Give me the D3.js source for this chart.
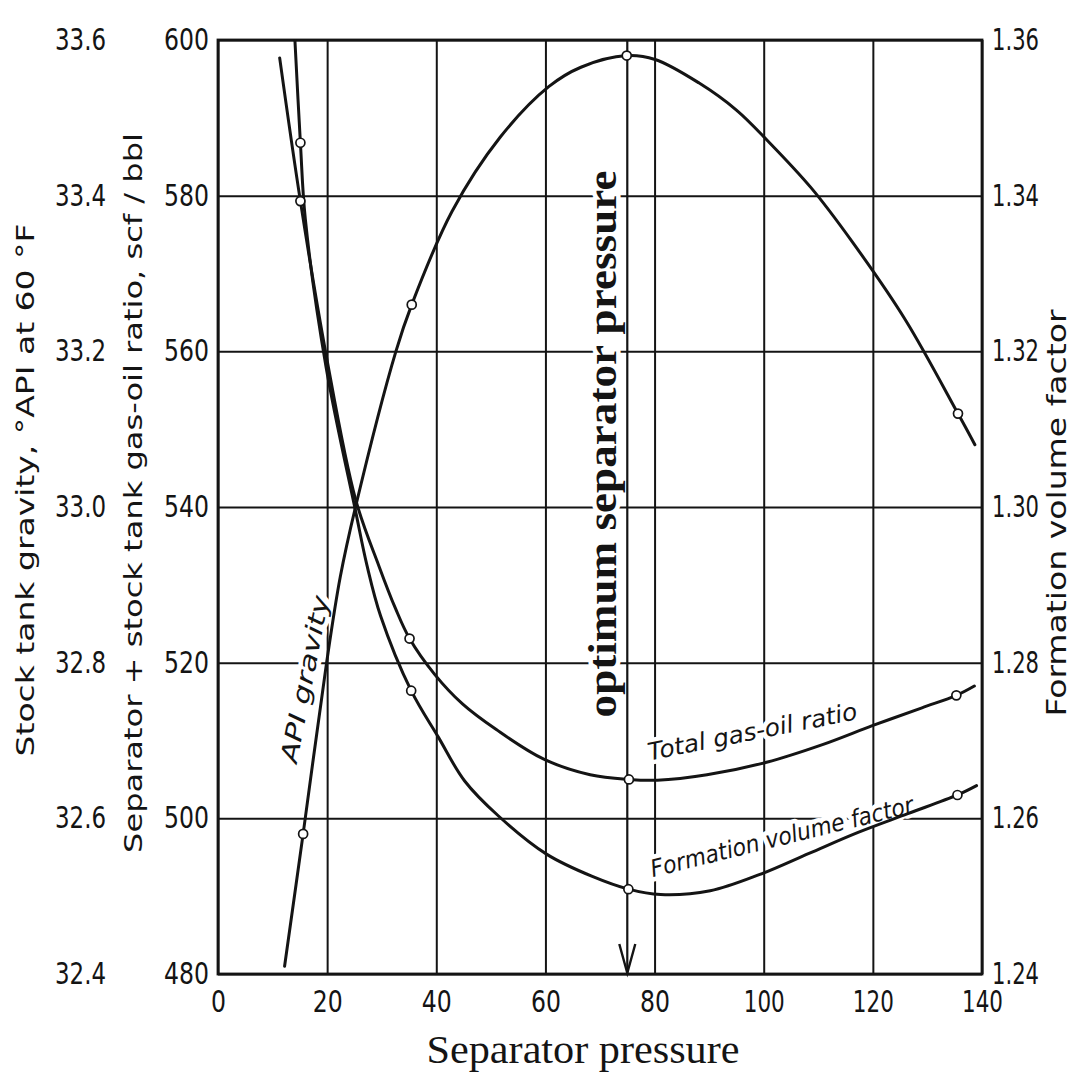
<!DOCTYPE html>
<html>
<head>
<meta charset="utf-8">
<script src="https://cdn.jsdelivr.net/npm/d3@7"></script>
<style>
  html, body { margin: 0; padding: 0; background: #fff; }
  svg { display: block; }
</style>
</head>
<body>
<svg id="chart" width="1077" height="1083"></svg>
<script>
// ---- axis ticks ----
const pressureTicks = [0, 20, 40, 60, 80, 100, 120, 140];
const gorTicks = [480, 500, 520, 540, 560, 580, 600];
const apiTicks = [32.4, 32.6, 32.8, 33.0, 33.2, 33.4, 33.6];
const fvfTicks = [1.24, 1.26, 1.28, 1.30, 1.32, 1.34, 1.36];

// ---- stock tank API gravity, °API ----
const apiPressure = [12.2, 15.6, 19.9, 22.4, 25.2, 32.6, 35.5, 42.9, 51.7, 60.6, 66.5, 74.9, 80.1, 88.1, 95.0, 100.8, 108.7, 116.3, 126.0, 135.6, 138.7];
const apiGravity  = [32.41, 32.58, 32.80, 32.91, 33.00, 33.20, 33.26, 33.38, 33.475, 33.54, 33.565, 33.58, 33.575, 33.545, 33.51, 33.47, 33.41, 33.34, 33.24, 33.12, 33.08];
const apiMeasuredPressure = [15.6, 35.5, 74.9, 135.6];
const apiMeasured = [32.58, 33.26, 33.58, 33.12];

// ---- separator + stock tank (total) gas-oil ratio, scf/bbl ----
const gorPressure = [11.3, 15.1, 19.8, 25.2, 29.5, 32.5, 35.1, 39.7, 44.8, 51.0, 59.7, 68.2, 75.3, 80.5, 89.6, 100.5, 110.9, 119.9, 129.0, 135.3, 138.6];
const gorTotal    = [597.7, 579.3, 559.6, 541.0, 532.4, 527.0, 523.1, 518.5, 514.7, 511.4, 507.6, 505.6, 505.0, 504.9, 505.6, 507.2, 509.5, 511.9, 514.2, 515.8, 517.0];
const gorMeasuredPressure = [15.1, 35.1, 75.3, 135.3];
const gorMeasured = [579.3, 523.1, 505.0, 515.8];

// ---- formation volume factor, bbl/STB ----
const fvfPressure = [14.1, 15.1, 16.0, 19.8, 25.2, 27.3, 29.8, 35.4, 40.4, 45.2, 51.4, 60.2, 68.7, 75.2, 81.1, 90.2, 99.3, 108.3, 117.3, 126.4, 135.5, 139.0];
const fvfValue    = [1.3599, 1.3468, 1.3370, 1.3180, 1.2995, 1.2925, 1.2860, 1.2764, 1.2704, 1.2648, 1.2603, 1.2554, 1.2525, 1.2509, 1.2502, 1.2507, 1.2528, 1.2555, 1.2582, 1.2606, 1.2630, 1.2642];
const fvfMeasuredPressure = [15.1, 35.4, 75.2, 135.5];
const fvfMeasured = [1.3468, 1.2764, 1.2509, 1.2630];

const optimumPressure = 75;

// ---- layout ----
const plot = { left: 218, right: 982, top: 40, bottom: 974 };
const svg = d3.select("#chart");
const ink = "#141414";
const sans = "'DejaVu Sans Condensed', 'DejaVu Sans', 'Liberation Sans', sans-serif";
const serif = "'Liberation Serif', 'DejaVu Serif', serif";

const x = d3.scaleLinear().domain([0, 140]).range([plot.left, plot.right]);
const yGor = d3.scaleLinear().domain([480, 600]).range([plot.bottom, plot.top]);
const yApi = d3.scaleLinear().domain([32.4, 33.6]).range([plot.bottom, plot.top]);
const yFvf = d3.scaleLinear().domain([1.24, 1.36]).range([plot.bottom, plot.top]);

// narrow numerals: fix each label's width from its characters
function numWidth(s) {
  let w = 0;
  for (const c of s) w += c === "." ? 6 : c === "1" ? 11 : 15;
  return w;
}
function styleTicks(g) {
  g.select(".domain").remove();
  g.selectAll(".tick line").attr("stroke", ink).attr("stroke-width", 2);
  g.selectAll(".tick text")
    .attr("fill", ink)
    .style("font-family", sans)
    .style("font-size", "30px")
    .attr("textLength", function () { return numWidth(this.textContent); })
    .attr("lengthAdjust", "spacingAndGlyphs");
}

// gridlines + pressure labels
svg.append("g")
  .attr("transform", `translate(0,${plot.bottom})`)
  .call(d3.axisBottom(x).tickValues(pressureTicks).tickFormat(d3.format("d"))
    .tickSize(-(plot.bottom - plot.top)).tickPadding(17))
  .call(styleTicks);

// gridlines + gas-oil ratio labels
svg.append("g")
  .attr("transform", `translate(${plot.left},0)`)
  .call(d3.axisLeft(yGor).tickValues(gorTicks).tickFormat(d3.format("d"))
    .tickSize(-(plot.right - plot.left)).tickPadding(9))
  .call(styleTicks);

// API gravity labels (outer left scale)
svg.append("g")
  .attr("transform", `translate(${plot.left},0)`)
  .call(d3.axisLeft(yApi).tickValues(apiTicks).tickFormat(d3.format(".1f"))
    .tickSize(0).tickPadding(112))
  .call(styleTicks);

// formation volume factor labels (right scale)
svg.append("g")
  .attr("transform", `translate(${plot.right},0)`)
  .call(d3.axisRight(yFvf).tickValues(fvfTicks).tickFormat(d3.format(".2f"))
    .tickSize(0).tickPadding(10))
  .call(styleTicks);

// frame
svg.append("rect")
  .attr("x", plot.left).attr("y", plot.top)
  .attr("width", plot.right - plot.left).attr("height", plot.bottom - plot.top)
  .attr("fill", "none").attr("stroke", ink).attr("stroke-width", 2.8);

// ---- labels inside the plot (white halo breaks the grid behind them) ----
function haloText(sel) {
  return sel.attr("fill", ink)
    .attr("stroke", "#fff").attr("stroke-width", 9)
    .attr("stroke-linejoin", "round")
    .style("paint-order", "stroke");
}

haloText(svg.append("text"))
  .attr("transform", `translate(${x(17.4)},${yGor(517.7)}) rotate(-79)`)
  .attr("text-anchor", "middle")
  .style("font-family", sans).style("font-style", "italic").style("font-size", "24px")
  .attr("textLength", 170).attr("lengthAdjust", "spacingAndGlyphs")
  .text("API gravity");

haloText(svg.append("text"))
  .attr("transform", `translate(${x(98.2)},${yGor(510.1)}) rotate(-11.2)`)
  .attr("text-anchor", "middle")
  .style("font-family", sans).style("font-style", "italic").style("font-size", "24px")
  .attr("textLength", 213).attr("lengthAdjust", "spacingAndGlyphs")
  .text("Total gas-oil ratio");

haloText(svg.append("text"))
  .attr("transform", `translate(${x(103.7)},${yFvf(1.2566)}) rotate(-13.9)`)
  .attr("text-anchor", "middle")
  .style("font-family", sans).style("font-style", "italic").style("font-size", "24px")
  .attr("textLength", 270).attr("lengthAdjust", "spacingAndGlyphs")
  .text("Formation volume factor");

haloText(svg.append("text"))
  .attr("transform", `translate(${x(optimumPressure - 2)},${yGor(548.1)}) rotate(-90)`)
  .attr("text-anchor", "middle")
  .style("font-family", serif).style("font-weight", "bold").style("font-size", "40px")
  .attr("textLength", 547).attr("lengthAdjust", "spacingAndGlyphs")
  .text("optimum separator pressure");

// optimum pressure arrow
const ax = x(optimumPressure);
svg.append("line")
  .attr("x1", ax).attr("x2", ax).attr("y1", plot.top).attr("y2", plot.bottom)
  .attr("stroke", ink).attr("stroke-width", 2.2);
svg.append("path")
  .attr("d", `M${ax - 8},${plot.bottom - 30} L${ax},${plot.bottom - 1} L${ax + 8},${plot.bottom - 30}`)
  .attr("fill", "none").attr("stroke", ink).attr("stroke-width", 2.4);

// ---- curves ----
function drawCurve(px, py, yScale) {
  const pts = px.map((p, i) => [p, py[i]]);
  svg.append("path")
    .datum(pts)
    .attr("d", d3.line().x(d => x(d[0])).y(d => yScale(d[1])).curve(d3.curveCatmullRom.alpha(0.5)))
    .attr("fill", "none").attr("stroke", ink).attr("stroke-width", 3)
    .attr("stroke-linecap", "round");
}
function drawPoints(px, py, yScale) {
  svg.append("g").selectAll("circle")
    .data(px.map((p, i) => [p, py[i]]))
    .join("circle")
    .attr("cx", d => x(d[0])).attr("cy", d => yScale(d[1]))
    .attr("r", 4.5)
    .attr("fill", "#fff").attr("stroke", ink).attr("stroke-width", 1.7);
}

drawCurve(apiPressure, apiGravity, yApi);
drawCurve(gorPressure, gorTotal, yGor);
drawCurve(fvfPressure, fvfValue, yFvf);
drawPoints(apiMeasuredPressure, apiMeasured, yApi);
drawPoints(gorMeasuredPressure, gorMeasured, yGor);
drawPoints(fvfMeasuredPressure, fvfMeasured, yFvf);

// ---- axis titles ----
svg.append("text")
  .attr("transform", "translate(25,490) rotate(-90)")
  .attr("text-anchor", "middle").attr("dominant-baseline", "central")
  .attr("fill", ink)
  .style("font-family", sans).style("font-size", "25px")
  .attr("textLength", 533).attr("lengthAdjust", "spacingAndGlyphs")
  .text("Stock tank gravity, °API at 60 °F");

svg.append("text")
  .attr("transform", "translate(133,493) rotate(-90)")
  .attr("text-anchor", "middle").attr("dominant-baseline", "central")
  .attr("fill", ink)
  .style("font-family", sans).style("font-size", "25px")
  .attr("textLength", 720).attr("lengthAdjust", "spacingAndGlyphs")
  .text("Separator + stock tank gas-oil ratio, scf / bbl");

svg.append("text")
  .attr("transform", "translate(1056,513) rotate(-90)")
  .attr("text-anchor", "middle").attr("dominant-baseline", "central")
  .attr("fill", ink)
  .style("font-family", sans).style("font-size", "27px")
  .attr("textLength", 407).attr("lengthAdjust", "spacingAndGlyphs")
  .text("Formation volume factor");

svg.append("text")
  .attr("x", 583).attr("y", 1063)
  .attr("text-anchor", "middle")
  .attr("fill", ink)
  .style("font-family", serif).style("font-size", "40px")
  .attr("textLength", 313).attr("lengthAdjust", "spacingAndGlyphs")
  .text("Separator pressure");
</script>
</body>
</html>
